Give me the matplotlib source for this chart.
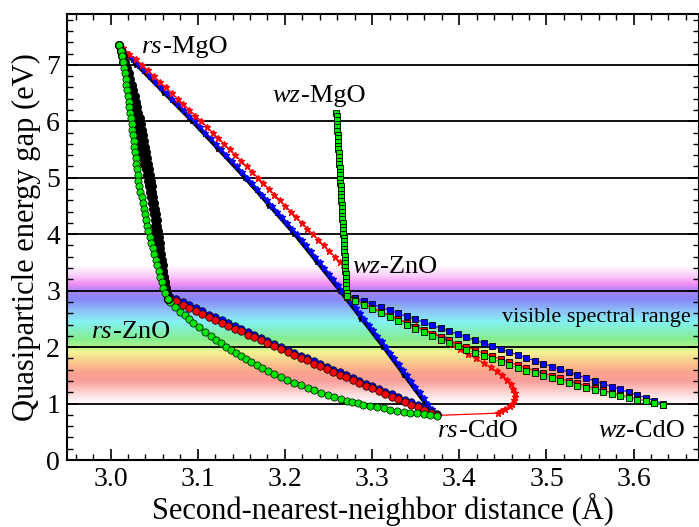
import numpy as np
import matplotlib
matplotlib.use("Agg")
import matplotlib.pyplot as plt
from matplotlib.colors import LinearSegmentedColormap
from matplotlib.ticker import MultipleLocator

plt.rcParams['font.family'] = ['Liberation Serif', 'DejaVu Serif']

# ---------------- data ----------------
# rock-salt MgO -> ZnO, green circles
rs_mgzn_green_y = [7.35, 7.25, 7.15, 7.05, 6.95, 6.85, 6.75, 6.65, 6.55, 6.45, 6.35, 6.25,
                   6.15, 6.05, 5.95, 5.85, 5.75, 5.65, 5.55, 5.45, 5.35, 5.25, 5.15, 5.05,
                   4.95, 4.85, 4.75, 4.65, 4.55, 4.45, 4.35, 4.25, 4.15, 4.05, 3.95, 3.85,
                   3.75, 3.65, 3.55, 3.45, 3.35, 3.25, 3.15, 3.05, 2.95, 2.85]
rs_mgzn_green_x = [3.0100, 3.0115, 3.0130, 3.0145, 3.0157, 3.0166, 3.0174, 3.0182, 3.0191,
                   3.0199, 3.0208, 3.0216, 3.0224, 3.0233, 3.0241, 3.0248, 3.0256, 3.0263,
                   3.0271, 3.0278, 3.0286, 3.0294, 3.0301, 3.0309, 3.0318, 3.0330, 3.0342,
                   3.0355, 3.0367, 3.0380, 3.0393, 3.0406, 3.0419, 3.0434, 3.0450, 3.0466,
                   3.0482, 3.0499, 3.0516, 3.0533, 3.0551, 3.0569, 3.0588, 3.0607, 3.0627,
                   3.0660]
# rock-salt MgO -> ZnO, black circles (two overlapping sets)
rs_mgzn_black_y = [7.35, 7.25, 7.15, 7.05, 6.95, 6.85, 6.75, 6.65, 6.55, 6.45, 6.35, 6.25,
                   6.15, 6.05, 5.95, 5.85, 5.75, 5.65, 5.55, 5.45, 5.35, 5.25, 5.15, 5.05,
                   4.95, 4.85, 4.75, 4.65, 4.55, 4.45, 4.35, 4.25, 4.15, 4.05, 3.95, 3.85,
                   3.75, 3.65, 3.55, 3.45, 3.35, 3.25, 3.15, 3.05, 2.95, 2.85]
rs_mgzn_black_x = [3.0100, 3.0115, 3.0131, 3.0146, 3.0162, 3.0176, 3.0191, 3.0205, 3.0220,
                   3.0234, 3.0247, 3.0261, 3.0274, 3.0288, 3.0301, 3.0314, 3.0327, 3.0340,
                   3.0352, 3.0364, 3.0377, 3.0389, 3.0401, 3.0413, 3.0425, 3.0436, 3.0448,
                   3.0459, 3.0470, 3.0482, 3.0493, 3.0504, 3.0515, 3.0526, 3.0537, 3.0548,
                   3.0559, 3.0569, 3.0581, 3.0591, 3.0603, 3.0613, 3.0625, 3.0636, 3.0648,
                   3.0660]
rs_mgzn_black2_x = [3.0100, 3.0122, 3.0144, 3.0165, 3.0186, 3.0206, 3.0225, 3.0243, 3.0260,
                    3.0276, 3.0291, 3.0306, 3.0320, 3.0334, 3.0347, 3.0360, 3.0372, 3.0384,
                    3.0396, 3.0407, 3.0418, 3.0429, 3.0440, 3.0450, 3.0460, 3.0470, 3.0480,
                    3.0490, 3.0500, 3.0509, 3.0518, 3.0527, 3.0536, 3.0545, 3.0554, 3.0563,
                    3.0572, 3.0580, 3.0589, 3.0597, 3.0606, 3.0614, 3.0623, 3.0632, 3.0642,
                    3.0660]

# rock-salt ZnO -> CdO, red and blue circles
rs_zncd_x = [3.068, 3.075, 3.083, 3.090, 3.098, 3.105, 3.113, 3.120, 3.128, 3.135, 3.143,
             3.150, 3.158, 3.165, 3.173, 3.180, 3.188, 3.195, 3.203, 3.210, 3.218, 3.225,
             3.233, 3.240, 3.248, 3.255, 3.263, 3.270, 3.278, 3.285, 3.293, 3.300, 3.308,
             3.315, 3.323, 3.330, 3.338, 3.345, 3.353, 3.360, 3.368, 3.374]
rs_zncd_red_y = [2.860, 2.809, 2.751, 2.701, 2.644, 2.594, 2.537, 2.487, 2.431, 2.382, 2.325,
                 2.277, 2.221, 2.172, 2.117, 2.069, 2.014, 1.966, 1.912, 1.864, 1.810, 1.763,
                 1.709, 1.663, 1.609, 1.563, 1.510, 1.464, 1.412, 1.366, 1.314, 1.269, 1.217,
                 1.172, 1.121, 1.076, 1.025, 0.981, 0.931, 0.887, 0.837, 0.800]
rs_zncd_blue_y = [2.880, 2.850, 2.792, 2.741, 2.684, 2.634, 2.577, 2.527, 2.471, 2.422, 2.365,
                  2.317, 2.261, 2.212, 2.157, 2.109, 2.054, 2.006, 1.952, 1.904, 1.850, 1.803,
                  1.749, 1.703, 1.649, 1.603, 1.550, 1.504, 1.452, 1.406, 1.354, 1.309, 1.257,
                  1.212, 1.161, 1.116, 1.065, 1.021, 0.971, 0.927, 0.875, 0.820]
# rock-salt ZnO -> CdO, green circles
rs_zncd_green_x = [3.068, 3.074, 3.080, 3.085, 3.090, 3.095, 3.1017, 3.1083, 3.115, 3.121,
                   3.127, 3.132, 3.138, 3.144, 3.150, 3.155, 3.161, 3.1675, 3.174, 3.1805,
                   3.187, 3.195, 3.2025, 3.210, 3.218, 3.226, 3.2335, 3.241, 3.249, 3.256,
                   3.264, 3.271, 3.277, 3.284, 3.290, 3.298, 3.3055, 3.3135, 3.321, 3.329,
                   3.3365, 3.344, 3.3515, 3.359, 3.3665, 3.374]
rs_zncd_green_y = [2.800, 2.715, 2.630, 2.563, 2.497, 2.430, 2.350, 2.270, 2.190, 2.130,
                   2.070, 2.010, 1.950, 1.895, 1.840, 1.785, 1.730, 1.677, 1.625, 1.572,
                   1.520, 1.470, 1.420, 1.370, 1.320, 1.277, 1.235, 1.192, 1.150, 1.117,
                   1.083, 1.050, 1.027, 1.003, 0.980, 0.958, 0.936, 0.914, 0.892, 0.870,
                   0.855, 0.840, 0.825, 0.810, 0.795, 0.780]

# rock-salt MgO -> CdO, blue crosses
rs_mgcd_blue_y = [7.35, 7.3, 7.2, 7.1, 7.0, 6.9, 6.8, 6.7, 6.6, 6.5, 6.4, 6.3, 6.2, 6.1, 6.0,
                  5.9, 5.8, 5.7, 5.6, 5.5, 5.4, 5.3, 5.2, 5.1, 5.0, 4.9, 4.8, 4.7, 4.6, 4.5,
                  4.4, 4.3, 4.2, 4.1, 4.0, 3.9, 3.8, 3.7, 3.6, 3.5, 3.4, 3.3, 3.2, 3.1, 3.0,
                  2.9, 2.8, 2.7, 2.6, 2.5, 2.4, 2.3, 2.2, 2.1, 2.0, 1.9, 1.8, 1.7, 1.6, 1.5,
                  1.4, 1.3, 1.2, 1.1, 1.0, 0.9, 0.8]
rs_mgcd_blue_x = [3.0100, 3.0132, 3.0196, 3.0261, 3.0325, 3.0389, 3.0453, 3.0517, 3.0581,
                  3.0645, 3.0709, 3.0773, 3.0837, 3.0901, 3.0965, 3.1026, 3.1086, 3.1147,
                  3.1207, 3.1268, 3.1328, 3.1389, 3.1449, 3.1510, 3.1570, 3.1627, 3.1684,
                  3.1741, 3.1798, 3.1855, 3.1912, 3.1969, 3.2026, 3.2083, 3.2140, 3.2192,
                  3.2244, 3.2296, 3.2348, 3.2400, 3.2452, 3.2504, 3.2556, 3.2608, 3.2660,
                  3.2710, 3.2760, 3.2810, 3.2860, 3.2910, 3.2960, 3.3010, 3.3060, 3.3110,
                  3.3160, 3.3208, 3.3256, 3.3304, 3.3352, 3.3400, 3.3448, 3.3496, 3.3544,
                  3.3592, 3.3640, 3.3685, 3.3730]
# rock-salt MgO -> CdO, black crosses (under the blue ones)
rs_mgcd_black_y = [7.35, 7.0, 6.5, 6.0, 5.5, 5.0, 4.5, 4.0, 3.5, 3.0, 2.5, 2.0, 1.5, 1.0, 0.8]
rs_mgcd_black_x = [3.0080, 3.0295, 3.0612, 3.0932, 3.1235, 3.1537, 3.1822, 3.2107, 3.2367,
                   3.2627, 3.2877, 3.3127, 3.3367, 3.3607, 3.3700]

# MgO -> CdO through the wurtzite region, red stars
mgcd_red_x = [3.0100, 3.0137, 3.0211, 3.0286, 3.0360, 3.0428, 3.0496, 3.0564, 3.0632, 3.0700,
              3.0768, 3.0836, 3.0904, 3.0972, 3.1040, 3.1105, 3.1170, 3.1235, 3.1300, 3.1365,
              3.1430, 3.1495, 3.1560, 3.1625, 3.1690, 3.1753, 3.1816, 3.1879, 3.1942, 3.2005,
              3.2068, 3.2131, 3.2194, 3.2257, 3.2320, 3.2383, 3.2446, 3.2509, 3.2572, 3.2635,
              3.2680, 3.2700, 3.2710, 3.2730, 3.2900, 3.3100, 3.3300, 3.3500, 3.3700, 3.3820,
              3.3920, 3.4010, 3.4100, 3.4190, 3.4280, 3.4360, 3.4430, 3.4490, 3.4550, 3.4590,
              3.4620, 3.4640, 3.4640, 3.4630, 3.4610, 3.4580, 3.4530, 3.4480, 3.4440, 3.3750]
mgcd_red_y = [7.35, 7.3, 7.2, 7.1, 7.0, 6.9, 6.8, 6.7, 6.6, 6.5, 6.4, 6.3, 6.2, 6.1, 6.0,
              5.9, 5.8, 5.7, 5.6, 5.5, 5.4, 5.3, 5.2, 5.1, 5.0, 4.9, 4.8, 4.7, 4.6, 4.5,
              4.4, 4.3, 4.2, 4.1, 4.0, 3.9, 3.8, 3.7, 3.6, 3.5, 3.4, 3.2, 3.0, 2.88, 2.77,
              2.63, 2.50, 2.37, 2.24, 2.16, 2.05, 1.96, 1.88, 1.80, 1.72, 1.64, 1.57, 1.50,
              1.42, 1.34, 1.26, 1.19, 1.12, 1.06, 1.00, 0.95, 0.90, 0.86, 0.83, 0.79]

# wurtzite MgO -> ZnO, green squares
wz_mgzn_y = [6.150, 6.085, 6.020, 5.955, 5.890, 5.825, 5.760, 5.695, 5.630, 5.565, 5.500,
             5.435, 5.370, 5.305, 5.240, 5.175, 5.110, 5.045, 4.980, 4.915, 4.850, 4.785,
             4.720, 4.655, 4.590, 4.525, 4.460, 4.395, 4.330, 4.265, 4.200, 4.135, 4.070,
             4.005, 3.940, 3.875, 3.810, 3.745, 3.680, 3.615, 3.550, 3.485, 3.420, 3.355,
             3.290, 3.225, 3.160, 3.095, 3.030, 2.965, 2.900]
wz_mgzn_x = [3.2590, 3.2592, 3.2595, 3.2597, 3.2600, 3.2602, 3.2604, 3.2607, 3.2609, 3.2612,
             3.2614, 3.2616, 3.2619, 3.2621, 3.2624, 3.2626, 3.2628, 3.2631, 3.2633, 3.2636,
             3.2638, 3.2640, 3.2643, 3.2645, 3.2648, 3.2650, 3.2652, 3.2655, 3.2657, 3.2660,
             3.2662, 3.2664, 3.2667, 3.2669, 3.2672, 3.2674, 3.2676, 3.2679, 3.2681, 3.2684,
             3.2686, 3.2688, 3.2691, 3.2693, 3.2696, 3.2698, 3.2700, 3.2703, 3.2705, 3.2708,
             3.2710]

# wurtzite ZnO -> CdO, blue / red / green squares
wz_zncd_x = [3.2710, 3.2808, 3.2906, 3.3004, 3.3102, 3.3200, 3.3298, 3.3396, 3.3494, 3.3592,
             3.3690, 3.3788, 3.3886, 3.3984, 3.4082, 3.4180, 3.4278, 3.4376, 3.4474, 3.4572,
             3.4670, 3.4768, 3.4866, 3.4964, 3.5062, 3.5160, 3.5258, 3.5356, 3.5454, 3.5552,
             3.5650, 3.5748, 3.5846, 3.5944, 3.6042, 3.6140, 3.6238, 3.6336]
wz_zncd_blue_y = [2.920, 2.866, 2.812, 2.758, 2.705, 2.651, 2.598, 2.544, 2.491, 2.438, 2.385,
                  2.333, 2.280, 2.227, 2.175, 2.122, 2.070, 2.018, 1.966, 1.914, 1.862, 1.811,
                  1.759, 1.708, 1.656, 1.605, 1.554, 1.503, 1.452, 1.402, 1.351, 1.301, 1.250,
                  1.200, 1.150, 1.100, 1.050, 1.000]
wz_zncd_red_y = [2.900, 2.829, 2.759, 2.691, 2.623, 2.556, 2.491, 2.426, 2.363, 2.301, 2.239,
                 2.179, 2.120, 2.061, 2.004, 1.948, 1.893, 1.839, 1.786, 1.734, 1.683, 1.634,
                 1.585, 1.537, 1.491, 1.445, 1.400, 1.357, 1.314, 1.273, 1.233, 1.194, 1.155,
                 1.118, 1.082, 1.047, 1.013, 0.980]
wz_zncd_green_y = [2.890, 2.815, 2.741, 2.668, 2.597, 2.527, 2.458, 2.391, 2.325, 2.260, 2.196,
                   2.134, 2.073, 2.014, 1.956, 1.899, 1.843, 1.789, 1.736, 1.684, 1.634, 1.585,
                   1.537, 1.491, 1.446, 1.402, 1.360, 1.319, 1.279, 1.240, 1.203, 1.168, 1.133,
                   1.100, 1.068, 1.037, 1.008, 0.980]

x_ticks = [3.0, 3.1, 3.2, 3.3, 3.4, 3.5, 3.6]
x_tick_labels = ['3.0', '3.1', '3.2', '3.3', '3.4', '3.5', '3.6']
y_ticks = [0, 1, 2, 3, 4, 5, 6, 7]
grid_levels = [1, 2, 3, 4, 5, 6, 7]

# point labels: (x, y, italic prefix, rest)
point_labels = [
    (3.0364, 7.216, 'rs', '-MgO'),
    (3.186, 6.35, 'wz', '-MgO'),
    (3.2772, 3.32, 'wz', '-ZnO'),
    (2.979, 2.16, 'rs', '-ZnO'),
    (3.376, 0.41, 'rs', '-CdO'),
    (3.5596, 0.41, 'wz', '-CdO'),
]

# visible spectrum band (energy stops, colours)
spec_stops = [1.00, 1.15, 1.40, 1.55, 1.75, 1.92, 2.02, 2.15, 2.45, 2.65, 2.85, 3.00, 3.12, 3.25, 3.45]
spec_colors = [(1.00, 1.00, 1.00), (0.99, 0.88, 0.88), (0.98, 0.62, 0.60), (0.98, 0.64, 0.56),
               (0.98, 0.80, 0.56), (0.96, 0.96, 0.58), (0.68, 0.95, 0.56), (0.52, 0.93, 0.56),
               (0.52, 0.95, 0.95), (0.56, 0.76, 0.97), (0.53, 0.52, 0.97), (0.66, 0.52, 0.97),
               (0.95, 0.55, 0.95), (0.98, 0.78, 0.98), (1.00, 1.00, 1.00)]

# ---------------- figure ----------------
W, H = 699, 527
fig = plt.figure(figsize=(W / 100, H / 100), dpi=100)
ax = fig.add_axes([67 / W, 67 / H, 632 / W, 446 / H])
XMIN, XMAX, YMIN, YMAX = 2.95, 3.675, 0.0, 7.9
ax.set_xlim(XMIN, XMAX)
ax.set_ylim(YMIN, YMAX)

# rainbow band
lo, hi = spec_stops[0], spec_stops[-1]
pos = [(s - lo) / (hi - lo) for s in spec_stops]
cmap = LinearSegmentedColormap.from_list('vis', list(zip(pos, spec_colors)))
grad = np.linspace(0, 1, 400).reshape(-1, 1)
ax.imshow(grad, cmap=cmap, aspect='auto', origin='lower',
          extent=[XMIN, XMAX, lo, hi], zorder=0, interpolation='bilinear')

for g in grid_levels:
    ax.axhline(g, color='black', lw=1.3, zorder=1)

GREEN = '#00e800'
RED = '#ff0000'
BLUE = '#0000ff'

# crosses / stars
ax.plot(rs_mgcd_black_x, rs_mgcd_black_y, color='black', lw=2.2, marker='*', ms=4,
        zorder=2)
ax.plot(rs_mgcd_blue_x, rs_mgcd_blue_y, color=BLUE, lw=1.6, marker='*', ms=4.5,
        mec=BLUE, zorder=3)
ax.plot(mgcd_red_x, mgcd_red_y, color=RED, lw=0.9, marker='*', ms=4.5, mec=RED, zorder=3)

# rs ZnO-CdO circles
ax.plot(rs_zncd_x, rs_zncd_blue_y, color=BLUE, lw=0.8, marker='o', ms=5.4, mfc=BLUE,
        mec='black', mew=0.5, zorder=4)
ax.plot(rs_zncd_x, rs_zncd_red_y, color=RED, lw=0.8, marker='o', ms=5.4, mfc=RED,
        mec='black', mew=0.5, zorder=4.1)
ax.plot(rs_zncd_green_x, rs_zncd_green_y, color=GREEN, lw=0.8, marker='o', ms=5.2,
        mfc=GREEN, mec='black', mew=0.5, zorder=4.2)

# rs MgO-ZnO circles
ax.plot(rs_mgzn_black2_x, rs_mgzn_black_y, color='black', lw=1.0, marker='o', ms=5.8,
        mfc='black', mec='black', mew=0.6, zorder=4.4)
ax.plot(rs_mgzn_black_x, rs_mgzn_black_y, color='black', lw=1.0, marker='o', ms=5.8,
        mfc='black', mec='black', mew=0.6, zorder=4.5)
ax.plot(rs_mgzn_green_x, rs_mgzn_green_y, color=GREEN, lw=0.8, marker='o', ms=5.2,
        mfc=GREEN, mec='black', mew=0.5, zorder=4.6)

# wz squares
SQ = 4.5
ax.plot(wz_zncd_x, wz_zncd_blue_y, color=BLUE, lw=0.8, marker='s', ms=SQ, mfc=BLUE,
        mec='black', mew=0.6, zorder=5)
ax.plot(wz_zncd_x, wz_zncd_red_y, color=RED, lw=0.8, marker='s', ms=SQ, mfc=RED,
        mec='black', mew=0.6, zorder=5.1)
ax.plot(wz_zncd_x, wz_zncd_green_y, color=GREEN, lw=0.8, marker='s', ms=SQ, mfc=GREEN,
        mec='black', mew=0.6, zorder=5.2)
ax.plot(wz_mgzn_x, wz_mgzn_y, color=GREEN, lw=0.8, marker='s', ms=SQ, mfc=GREEN,
        mec='black', mew=0.6, zorder=5.3)

# labels
LFS = 19
fig.canvas.draw()
for (x, y, pre, post) in point_labels:
    t1 = ax.text(x, y, pre, fontsize=LFS, style='italic', va='baseline', ha='left', zorder=7)
    bb = t1.get_window_extent(renderer=fig.canvas.get_renderer())
    x2 = ax.transData.inverted().transform((bb.x1, bb.y0))[0]
    ax.text(x2, y, post, fontsize=LFS, va='baseline', ha='left', zorder=7)

ax.text(3.449, 2.45, 'visible spectral range', fontsize=16, va='baseline', ha='left',
        zorder=7)

# axes cosmetics
ax.set_xticks(x_ticks)
ax.set_xticklabels(x_tick_labels)
ax.set_yticks(y_ticks)
ax.xaxis.set_minor_locator(MultipleLocator(0.02))
ax.yaxis.set_minor_locator(MultipleLocator(0.2))
ax.tick_params(which='both', direction='in', top=True, right=True)
ax.tick_params(which='major', length=8, width=1.2, labelsize=20, pad=5)
ax.tick_params(which='minor', length=4.5, width=1.0)
for s in ax.spines.values():
    s.set_linewidth(1.5)
    s.set_zorder(8)

ax.set_xlabel('Second-nearest-neighbor distance (Å)', fontsize=22, labelpad=1)
ax.set_ylabel('Quasiparticle energy gap (eV)', fontsize=22, labelpad=4)

fig.savefig('out.png', dpi=100)
